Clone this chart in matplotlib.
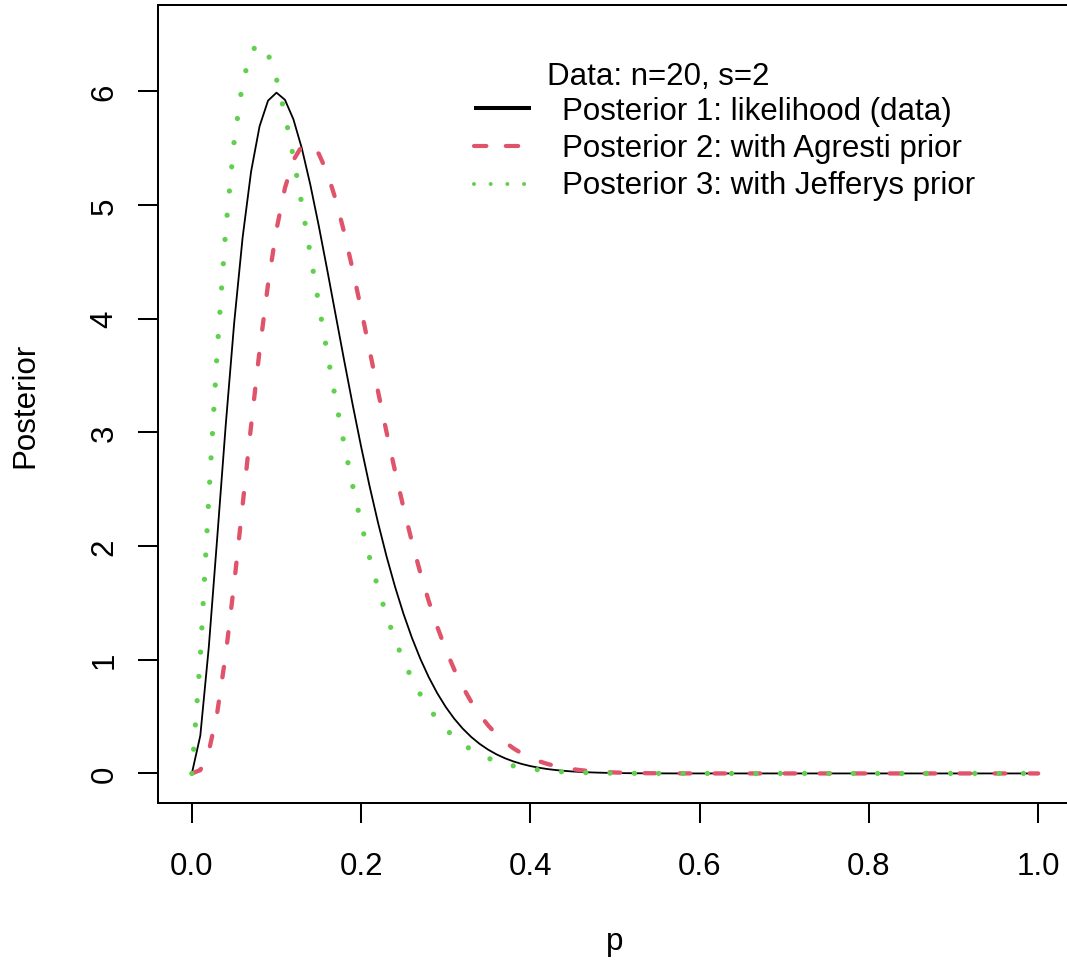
import matplotlib
matplotlib.use("Agg")
import matplotlib.pyplot as plt
from matplotlib.lines import Line2D

# ---- data (posterior densities read on a p grid) ----
p = [0.00, 0.01, 0.02, 0.03, 0.04, 0.05, 0.06, 0.07, 0.08, 0.09,
     0.10, 0.11, 0.12, 0.13, 0.14, 0.15, 0.16, 0.17, 0.18, 0.19,
     0.20, 0.21, 0.22, 0.23, 0.24, 0.25, 0.26, 0.27, 0.28, 0.29,
     0.30, 0.31, 0.32, 0.33, 0.34, 0.35, 0.36, 0.37, 0.38, 0.39,
     0.40, 0.41, 0.42, 0.43, 0.44, 0.45, 0.46, 0.47, 0.48, 0.49,
     0.50, 0.51, 0.52, 0.53, 0.54, 0.55, 0.56, 0.57, 0.58, 0.59,
     0.60, 0.61, 1.00]

posterior_likelihood = [
    0.0000, 0.3330, 1.1094, 2.0754, 3.0618, 3.9622, 4.7160, 5.2950, 5.6929, 5.9184,
    5.9888, 5.9262, 5.7547, 5.4980, 5.1785, 4.8161, 4.4283, 4.0297, 3.6322, 3.2450,
    2.8751, 2.5275, 2.2056, 1.9110, 1.6445, 1.4059, 1.1942, 1.0081, 0.8458, 0.7054,
    0.5848, 0.4819, 0.3949, 0.3216, 0.2604, 0.2097, 0.1678, 0.1335, 0.1056, 0.0830,
    0.0648, 0.0503, 0.0388, 0.0298, 0.0227, 0.0171, 0.0129, 0.0096, 0.0071, 0.0052,
    0.0038, 0.0028, 0.0020, 0.0014, 0.0010, 0.0007, 0.0005, 0.0003, 0.0002, 0.0001,
    0.0001, 0.0001, 0.0000]

posterior_agresti = [
    0.0000, 0.0293, 0.1930, 0.5361, 1.0437, 1.6707, 2.3612, 3.0600, 3.7195, 4.3029,
    4.7847, 5.1503, 5.3946, 5.5201, 5.5348, 5.4511, 5.2834, 5.0475, 4.7591, 4.4333,
    4.0836, 3.7224, 3.3598, 3.0044, 2.6628, 2.3401, 2.0397, 1.7639, 1.5137, 1.2893,
    1.0901, 0.9151, 0.7627, 0.6313, 0.5188, 0.4235, 0.3432, 0.2763, 0.2208, 0.1753,
    0.1381, 0.1081, 0.0840, 0.0648, 0.0496, 0.0377, 0.0284, 0.0212, 0.0157, 0.0116,
    0.0084, 0.0061, 0.0044, 0.0031, 0.0022, 0.0015, 0.0010, 0.0007, 0.0005, 0.0003,
    0.0002, 0.0001, 0.0000]

posterior_jeffreys = [
    0.0000, 1.0243, 2.4255, 3.7238, 4.7823, 5.5644, 6.0780, 6.3518, 6.4228, 6.3298,
    6.1100, 5.7971, 5.4202, 5.0038, 4.5679, 4.1283, 3.6971, 3.2835, 2.8937, 2.5317,
    2.2000, 1.8993, 1.6296, 1.3899, 1.1786, 0.9938, 0.8333, 0.6950, 0.5766, 0.4758,
    0.3906, 0.3189, 0.2591, 0.2094, 0.1683, 0.1346, 0.1070, 0.0846, 0.0666, 0.0521,
    0.0405, 0.0313, 0.0241, 0.0184, 0.0140, 0.0105, 0.0079, 0.0059, 0.0044, 0.0032,
    0.0023, 0.0017, 0.0012, 0.0009, 0.0006, 0.0004, 0.0003, 0.0002, 0.0001, 0.0001,
    0.0001, 0.0000, 0.0000]

x_ticks = [0.0, 0.2, 0.4, 0.6, 0.8, 1.0]
x_tick_labels = ["0.0", "0.2", "0.4", "0.6", "0.8", "1.0"]
y_ticks = [0, 1, 2, 3, 4, 5, 6]
y_tick_labels = ["0", "1", "2", "3", "4", "5", "6"]

legend_title = "Data: n=20, s=2"
legend_labels = ["Posterior 1: likelihood (data)",
                 "Posterior 2: with Agresti prior",
                 "Posterior 3: with Jefferys prior"]

# ---- style ----
W, H = 1067, 962
FS = 22.5
BLACK = "#000000"
RED = "#DF536B"
GREEN = "#61D04F"
plt.rcParams["font.family"] = ["Liberation Sans", "DejaVu Sans"]
plt.rcParams["lines.scale_dashes"] = False

fig = plt.figure(figsize=(W / 100, H / 100), dpi=100)

def fx(px):
    return px / W

def fy(py):
    return 1 - py / H

left, right, top, bottom = 158, 1072, 6, 804
ax = fig.add_axes([fx(left), fy(bottom), (right - left) / W, (bottom - top) / H])
ax.set_xlim(-0.04, 1.04)
ax.set_ylim(-0.26, 6.76)

ax.plot(p, posterior_likelihood, color=BLACK, lw=1.3, solid_joinstyle="round")
ax.plot(p, posterior_agresti, color=RED, lw=3.1, dashes=(7.6, 17.6),
        dash_capstyle="round", dash_joinstyle="round")
ax.plot(p, posterior_jeffreys, color=GREEN, lw=3.8, dashes=(0.01, 17.5),
        dash_capstyle="round")

for s in ax.spines.values():
    s.set_linewidth(1.45)
ax.set_xticks(x_ticks)
ax.set_xticklabels(x_tick_labels)
ax.set_yticks(y_ticks)
ax.set_yticklabels(y_tick_labels, rotation=90, va="center")
ax.tick_params(axis="both", direction="out", length=14.4, width=1.45,
               labelsize=FS, colors=BLACK)
ax.tick_params(axis="x", pad=20.5)
ax.tick_params(axis="y", pad=13.4)

fig.text(fx(25.0), fy(405), "Posterior", rotation=90, ha="center", va="center",
         fontsize=FS)
fig.text(fx(615), fy(942.5), "p", ha="center", va="center", fontsize=FS)

# ---- legend (drawn manually to match R layout) ----
fig.text(fx(547), fy(85), legend_title, ha="left", va="baseline", fontsize=FS)
row_y = [108.7, 146.7, 185.0]
base_y = [120, 157, 194]
leg_styles = [
    dict(color=BLACK, lw=2.9, solid_capstyle="butt"),
    dict(color=RED, lw=3.0, dashes=(8.9, 14.0), dash_capstyle="round"),
    dict(color=GREEN, lw=2.9, dashes=(0.01, 12.0), dash_capstyle="round"),
]
for ry, by, lab, st in zip(row_y, base_y, legend_labels, leg_styles):
    fig.add_artist(Line2D([fx(474), fx(531)], [fy(ry), fy(ry)],
                          transform=fig.transFigure, **st))
    fig.text(fx(562), fy(by), lab, ha="left", va="baseline", fontsize=FS)

fig.savefig("out.png", dpi=100)
